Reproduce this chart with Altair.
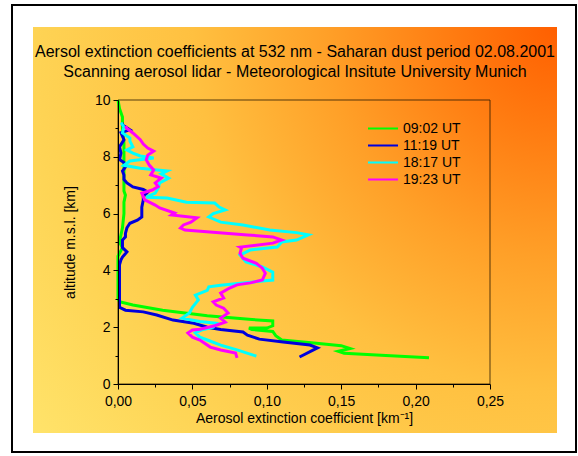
import altair as alt
import pandas as pd

# ---------------- data (altitude km, extinction km^-1) ----------------
series_names = ["09:02 UT", "11:19 UT", "18:17 UT", "19:23 UT"]
series_colors = ["#00FF00", "#0000DD", "#00FFFF", "#FF00FF"]

green_h = [10.0, 9.7, 9.4, 9.0, 8.5, 8.0, 7.5, 7.0, 6.8, 6.65, 6.4, 6.0, 5.5, 5.0, 4.8,
           4.5, 4.0, 3.5, 3.0, 2.9, 2.78, 2.6, 2.4, 2.27, 2.22, 2.05, 1.97, 1.97, 1.92,
           1.85, 1.7, 1.55, 1.45, 1.35, 1.25, 1.15, 1.08, 1.0, 0.92]
green_v = [0.000, 0.001, 0.003, 0.003, 0.004, 0.004, 0.004, 0.004, 0.004, 0.005, 0.004,
           0.004, 0.003, 0.001, 0.003, 0.000, 0.000, 0.000, 0.000, 0.001, 0.010, 0.030,
           0.060, 0.090, 0.104, 0.104, 0.100, 0.088, 0.090, 0.104, 0.106, 0.110, 0.130,
           0.150, 0.156, 0.148, 0.152, 0.180, 0.209]

blue_h = [9.2, 9.12, 8.95, 8.85, 8.6, 8.35, 8.13, 7.9, 7.8, 7.64, 7.5, 7.36, 7.2, 7.08,
          6.94, 6.85, 6.76, 6.6, 6.48, 6.23, 6.0, 5.88, 5.77, 5.66, 5.5, 5.3, 5.18, 5.07,
          4.9, 4.8, 4.65, 4.47, 4.37, 4.2, 4.0, 3.5, 3.0, 2.7, 2.6, 2.54, 2.43, 2.25, 2.14,
          2.0, 1.92, 1.83, 1.72, 1.58, 1.48, 1.37, 1.27, 0.95]
blue_v = [0.003, 0.003, 0.008, 0.002, 0.004, 0.001, 0.002, 0.001, 0.004, 0.005, 0.003,
          0.004, 0.004, 0.006, 0.010, 0.017, 0.020, 0.017, 0.017, 0.016, 0.016, 0.016,
          0.013, 0.008, 0.006, 0.005, 0.005, 0.003, 0.003, 0.003, 0.006, 0.003, 0.002,
          0.001, 0.001, 0.001, 0.001, 0.001, 0.005, 0.017, 0.026, 0.037, 0.051, 0.060,
          0.069, 0.084, 0.087, 0.095, 0.111, 0.129, 0.134, 0.122]

cyan_h = [9.2, 9.05, 8.84, 8.66, 8.55, 8.35, 8.24, 8.13, 8.03, 7.96, 7.85, 7.7, 7.6, 7.5,
          7.4, 7.25, 7.08, 6.9, 6.72, 6.58, 6.55, 6.4, 6.37, 6.23, 6.13, 6.0, 5.88, 5.7,
          5.6, 5.42, 5.33, 5.25, 5.07, 5.0, 4.82, 4.72, 4.54, 4.3, 4.12, 3.94, 3.66, 3.56,
          3.48, 3.42, 3.3, 3.13, 2.96, 2.7, 2.5, 2.32, 2.2, 2.14, 2.0, 1.9, 1.8, 1.65,
          1.55, 1.37, 1.2, 0.98]
cyan_v = [0.002, 0.004, 0.003, 0.008, 0.008, 0.010, 0.006, 0.010, 0.015, 0.024, 0.008,
          0.004, 0.015, 0.033, 0.029, 0.034, 0.028, 0.027, 0.025, 0.019, 0.033, 0.046,
          0.065, 0.068, 0.072, 0.064, 0.061, 0.069, 0.084, 0.102, 0.120, 0.128, 0.120,
          0.110, 0.107, 0.089, 0.082, 0.086, 0.097, 0.104, 0.104, 0.084, 0.069, 0.061,
          0.060, 0.052, 0.054, 0.050, 0.048, 0.043, 0.055, 0.066, 0.064, 0.056, 0.052,
          0.055, 0.060, 0.069, 0.080, 0.093]

magenta_h = [9.08, 9.0, 8.84, 8.6, 8.45, 8.31, 8.2, 8.06, 7.89, 7.71, 7.54, 7.36, 7.25,
             7.08, 6.95, 6.83, 6.72, 6.6, 6.48, 6.3, 6.2, 6.02, 5.95, 5.85, 5.7, 5.6,
             5.49, 5.42, 5.25, 5.18, 5.07, 4.96, 4.82, 4.79, 4.6, 4.43, 4.25, 4.08, 3.9,
             3.66, 3.56, 3.49, 3.38, 3.2, 3.03, 2.89, 2.78, 2.67, 2.5, 2.32, 2.18, 2.05,
             1.93, 1.9, 1.8, 1.65, 1.55, 1.3, 1.2, 1.09, 0.92]
magenta_v = [0.005, 0.006, 0.010, 0.015, 0.017, 0.020, 0.024, 0.020, 0.019, 0.021, 0.024,
             0.022, 0.029, 0.025, 0.027, 0.023, 0.016, 0.017, 0.018, 0.025, 0.028, 0.038,
             0.036, 0.053, 0.049, 0.044, 0.042, 0.045, 0.087, 0.104, 0.110, 0.104, 0.082,
             0.083, 0.082, 0.084, 0.093, 0.097, 0.099, 0.097, 0.089, 0.080, 0.075, 0.069,
             0.071, 0.064, 0.066, 0.071, 0.074, 0.069, 0.072, 0.065, 0.055, 0.050, 0.047,
             0.050, 0.055, 0.062, 0.069, 0.079, 0.080]

title_lines = [
    "Aersol extinction coefficients at 532 nm - Saharan dust period 02.08.2001",
    "Scanning aerosol lidar - Meteorological Insitute University Munich",
]
x_title = "Aerosol extinction coefficient [km\u207b\u00b9]"
y_title = "altitude m.s.l. [km]"
x_tick_values = [0.0, 0.025, 0.05, 0.075, 0.1, 0.125, 0.15, 0.175, 0.2, 0.225, 0.25]
y_tick_values = [0, 1, 2, 3, 4, 5, 6, 7, 8, 9, 10]

# ---------------- build table ----------------
rows = []
for name, hs, vs in zip(series_names,
                        [green_h, blue_h, cyan_h, magenta_h],
                        [green_v, blue_v, cyan_v, magenta_v]):
    for i, (h, v) in enumerate(zip(hs, vs)):
        rows.append({"series": name, "h": h, "v": v, "idx": i})
df = pd.DataFrame(rows)
one = pd.DataFrame({"k": [0]})

W, H = 372, 284
FONT = "Liberation Sans"

gradient = {
    "gradient": "radial",
    "x1": 1, "y1": 0.113, "r1": 0,
    "x2": 1, "y2": 0.113, "r2": 1.26,
    "stops": [
        {"offset": 0.0, "color": "#FF5F00"},
        {"offset": 0.15, "color": "#FF7A10"},
        {"offset": 0.35, "color": "#FFA028"},
        {"offset": 0.55, "color": "#FFC040"},
        {"offset": 0.8, "color": "#FED455"},
        {"offset": 1.0, "color": "#FFE36A"},
    ],
}

border = alt.Chart(one).mark_rect(fill="white", stroke="black", strokeWidth=2).encode(
    x=alt.value(-106), x2=alt.value(458), y=alt.value(-95), y2=alt.value(352))

bg = alt.Chart(one).mark_rect(fill=gradient, strokeWidth=0).encode(
    x=alt.value(-85), x2=alt.value(439), y=alt.value(-73), y2=alt.value(333))

frame = alt.Chart(one).mark_rect(fillOpacity=0, stroke="#2a1a00", strokeOpacity=0.8,
                                 strokeWidth=1).encode(
    x=alt.value(0), x2=alt.value(W), y=alt.value(0), y2=alt.value(H))

t1 = alt.Chart(one).mark_text(font=FONT, fontSize=16, color="black", align="center",
                              baseline="middle").encode(
    x=alt.value(177), y=alt.value(-48), text=alt.value(title_lines[0]))
t2 = alt.Chart(one).mark_text(font=FONT, fontSize=16, color="black", align="center",
                              baseline="middle").encode(
    x=alt.value(177), y=alt.value(-28), text=alt.value(title_lines[1]))

x_axis = alt.Axis(
    title=x_title, values=x_tick_values,
    labelExpr="round(datum.value*1000) % 50 == 0 ? replace(format(datum.value, '.2f'), '.', ',') : ''",
    tickSize={"condition": {"test": "round(datum.value*1000) % 50 == 0", "value": 5}, "value": 3},
    grid=False, zindex=1, labelFont=FONT, labelFontSize=14, labelColor="black",
    titleFont=FONT, titleFontSize=14, titleFontWeight="normal", titleColor="black",
    domainColor="black", tickColor="black", labelPadding=5, titlePadding=3,
    labelFlush=False, labelOverlap=False,
)
y_axis = alt.Axis(
    title=y_title, values=y_tick_values,
    labelExpr="datum.value % 2 == 0 ? format(datum.value, 'd') : ''",
    tickSize={"condition": {"test": "datum.value % 2 == 0", "value": 5}, "value": 3},
    grid=False, zindex=1, labelFont=FONT, labelFontSize=14, labelColor="black",
    titleFont=FONT, titleFontSize=14, titleFontWeight="normal", titleColor="black",
    domainColor="black", tickColor="black", labelPadding=3, titlePadding=17,
    labelFlush=False, labelOverlap=False,
)

lines = alt.Chart(df).mark_line(strokeWidth=3).encode(
    x=alt.X("v:Q", scale=alt.Scale(domain=[0, 0.25], nice=False, zero=False), axis=x_axis),
    y=alt.Y("h:Q", scale=alt.Scale(domain=[0, 10], nice=False, zero=False), axis=y_axis),
    color=alt.Color("series:N",
                    scale=alt.Scale(domain=series_names, range=series_colors),
                    legend=alt.Legend(title=None, orient="none", legendX=249, legendY=21,
                                      symbolType="stroke", symbolStrokeWidth=2,
                                      symbolSize=900, labelFont=FONT, labelFontSize=14,
                                      labelColor="black", labelOffset=4, rowPadding=2,
                                      clipHeight=15)),
    order=alt.Order("idx:Q"),
)

chart = alt.layer(border, bg, frame, lines, t1, t2).properties(
    width=W, height=H,
    autosize=alt.AutoSizeParams(type="none"),
    padding={"left": 118, "top": 100, "right": 88, "bottom": 72},
    background="white",
).configure_view(stroke=None)

chart.save("out.html", embed_options={"renderer": "svg", "actions": False})
